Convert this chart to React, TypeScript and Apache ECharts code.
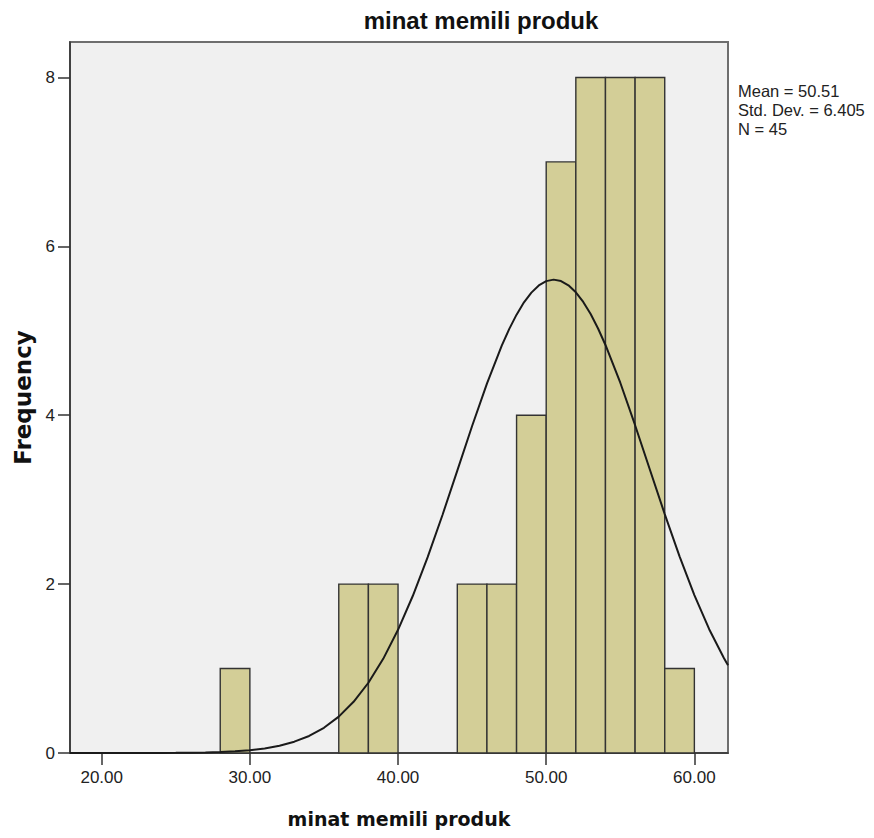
import React, { useEffect, useRef } from "react";
import * as echarts from "echarts";

// Histogram bins: [binStart, binEnd, frequency]
const binStarts = [28, 36, 38, 44, 46, 48, 50, 52, 54, 56, 58];
const binEnds = [30, 38, 40, 46, 48, 50, 52, 54, 56, 58, 60];
const frequencies = [1, 2, 2, 2, 2, 4, 7, 8, 8, 8, 1];

// Fitted normal curve
const curveX = [17.86, 20, 22, 24, 25, 26, 27, 28, 29, 30, 31, 32, 33, 34, 35, 36, 37, 38, 39, 40, 41, 42, 43, 44, 45, 46, 47, 47.5, 48, 48.5, 49, 49.5, 50, 50.5, 51, 51.5, 52, 52.5, 53, 53.5, 54, 55, 56, 57, 58, 59, 60, 61, 62, 62.27];
const curveY = [0, 0, 0, 0.001, 0.002, 0.004, 0.007, 0.012, 0.02, 0.033, 0.054, 0.086, 0.134, 0.202, 0.299, 0.431, 0.606, 0.832, 1.115, 1.459, 1.862, 2.319, 2.819, 3.344, 3.872, 4.375, 4.824, 5.02, 5.191, 5.337, 5.452, 5.537, 5.588, 5.606, 5.589, 5.539, 5.456, 5.342, 5.198, 5.027, 4.832, 4.385, 3.882, 3.355, 2.829, 2.329, 1.87, 1.466, 1.122, 1.039];

const xTicks = [20, 30, 40, 50, 60];
const yTicks = [0, 2, 4, 6, 8];

const MEAN = "50.51";
const STD_DEV = "6.405";
const N = "45";

const TITLE = "minat memili produk";
const X_NAME = "minat memili produk";
const Y_NAME = "Frequency";

export default function App() {
  const ref = useRef<HTMLDivElement>(null);

  useEffect(() => {
    if (!ref.current) return;
    const chart = echarts.init(ref.current, null, { renderer: "svg" });
    const barData = binStarts.map((s, i) => [s, binEnds[i], frequencies[i]]);
    const lineData = curveX.map((x, i) => [x, curveY[i]]);

    chart.setOption({
      animation: false,
      backgroundColor: "#ffffff",
      grid: {
        left: 70,
        top: 42,
        width: 658,
        height: 711,
        show: true,
        backgroundColor: "#F0F0F0",
        borderColor: "#6e6e6e",
        borderWidth: 2,
      },
      xAxis: {
        type: "value",
        min: 17.86,
        max: 62.27,
        name: X_NAME,
        nameLocation: "middle",
        nameGap: 56,
        nameTextStyle: {
          fontFamily: "DejaVu Sans",
          fontWeight: "bold",
          fontSize: 19,
          color: "#111",
        },
        axisLine: { show: true, onZero: false, lineStyle: { color: "#333", width: 1.5 } },
        axisTick: {
          show: true,
          length: 12,
          customValues: xTicks,
          lineStyle: { color: "#333", width: 1.5 },
        },
        axisLabel: {
          customValues: xTicks,
          formatter: (v: number) => v.toFixed(2),
          fontFamily: "Liberation Sans",
          fontSize: 17,
          color: "#222",
          margin: 16,
        },
        splitLine: { show: false },
      },
      yAxis: {
        type: "value",
        min: 0,
        max: 8.42,
        name: Y_NAME,
        nameLocation: "middle",
        nameGap: 36,
        nameTextStyle: {
          fontFamily: "DejaVu Sans",
          fontWeight: "bold",
          fontSize: 23,
          color: "#111",
        },
        axisLine: { show: true, onZero: false, lineStyle: { color: "#333", width: 1.5 } },
        axisTick: {
          show: true,
          length: 12,
          customValues: yTicks,
          lineStyle: { color: "#333", width: 1.5 },
        },
        axisLabel: {
          customValues: yTicks,
          fontFamily: "Liberation Sans",
          fontSize: 17,
          color: "#222",
          margin: 15,
        },
        splitLine: { show: false },
      },
      graphic: [
        {
          type: "text",
          x: 481,
          y: 20,
          style: {
            text: TITLE,
            fontFamily: "Liberation Sans",
            fontWeight: "bold",
            fontSize: 24,
            fill: "#111",
            textAlign: "center",
            textVerticalAlign: "middle",
          },
        },
        {
          type: "text",
          x: 738,
          y: 81,
          style: {
            text: `Mean = ${MEAN}\nStd. Dev. = ${STD_DEV}\nN = ${N}`,
            fontFamily: "Liberation Sans",
            fontSize: 16.5,
            lineHeight: 19,
            fill: "#222",
            textAlign: "left",
            textVerticalAlign: "top",
          },
        },
      ],
      series: [
        {
          type: "custom",
          data: barData,
          encode: { x: [0, 1], y: 2 },
          renderItem: (params: any, api: any) => {
            const x0 = api.value(0);
            const x1 = api.value(1);
            const c = api.value(2);
            const p0 = api.coord([x0, c]);
            const p1 = api.coord([x1, 0]);
            return {
              type: "rect",
              shape: { x: p0[0], y: p0[1], width: p1[0] - p0[0], height: p1[1] - p0[1] },
              style: { fill: "#D3CE97", stroke: "#333333", lineWidth: 1.4 },
            };
          },
        },
        {
          type: "line",
          data: lineData,
          smooth: false,
          showSymbol: false,
          symbol: "none",
          lineStyle: { color: "#1a1a1a", width: 2 },
          z: 5,
        },
      ],
    });
    return () => chart.dispose();
  }, []);

  return (
    <div
      ref={ref}
      style={{ position: "fixed", left: 0, top: 0, width: 874, height: 838 }}
    />
  );
}
